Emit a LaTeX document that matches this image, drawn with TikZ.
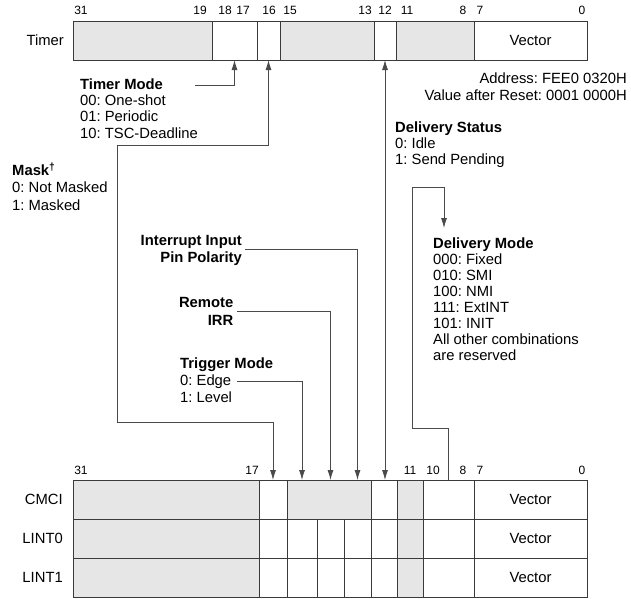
\documentclass[tikz,border=0pt]{standalone}
\usepackage{fontspec}
\setmainfont{Liberation Sans}
\usetikzlibrary{arrows.meta}
\frenchspacing

\definecolor{regfill}{HTML}{E6E6E6}
\definecolor{regline}{HTML}{3A3A3A}
\definecolor{wirec}{HTML}{4A4A4A}

\tikzset{
  cell/.style={draw=regline, line width=0.8pt, minimum height=39pt, inner sep=0pt, outer sep=0pt, font=\fontsize{14.8}{17}\selectfont},
  res/.style={cell, fill=regfill},
  bitno/.style={font=\fontsize{12}{14}\selectfont, inner sep=0pt},
  regname/.style={font=\fontsize{14.8}{17}\selectfont, anchor=east, inner sep=0pt},
  lbl/.style={font=\fontsize{14.8}{16.5}\selectfont, align=left, anchor=base west, inner sep=0pt},
  lblr/.style={lbl, align=right, anchor=base east},
  wire/.style={draw=wirec, line width=0.8pt},
  toarrow/.style={-{Latex[length=10pt,width=6pt]}},
  botharrow/.style={{Latex[length=10pt,width=6pt]}-{Latex[length=10pt,width=6pt]}}
}

\begin{document}
\begin{tikzpicture}[x=1pt,y=-1pt]
\useasboundingbox (0,0) rectangle (631,598);

% Timer register
\node[regname] (tmr) at (64,40.5) {Timer};
\node[res, minimum width=139pt] (t31) at (142.5,40.5) {};
\node[cell, minimum width=45pt] (t1817) at (234.5,40.5) {};
\node[cell, minimum width=23pt] (t16) at (268.5,40.5) {};
\node[res, minimum width=94pt] (t1513) at (327,40.5) {};
\node[cell, minimum width=22pt] (t12) at (385,40.5) {};
\node[res, minimum width=78pt] (t118) at (435,40.5) {};
\node[cell, minimum width=113pt] (t70) at (530.5,40.5) {Vector};

\node[bitno] (tb31) at (81,10) {31};
\node[bitno] (tb19) at (200,10) {19};
\node[bitno] (tb18) at (225,10) {18};
\node[bitno] (tb17) at (243,10) {17};
\node[bitno] (tb16) at (269,10) {16};
\node[bitno] (tb15) at (290,10) {15};
\node[bitno] (tb13) at (365,10) {13};
\node[bitno] (tb12) at (385,10) {12};
\node[bitno] (tb11) at (407,10) {11};
\node[bitno] (tb8) at (463,10) {8};
\node[bitno] (tb7) at (480,10) {7};
\node[bitno] (tb0) at (582,10) {0};

\node[lblr, font=\fontsize{14.8}{17}\selectfont] (addr) at (627,100.3) {Address: FEE0 0320H\\Value after Reset: 0001 0000H};

% CMCI, LINT0, LINT1
\node[regname] (cmn) at (63,499.5) {CMCI};
\node[res, minimum width=186pt] (cm31) at (166,499.5) {};
\node[cell, minimum width=28pt] (cm16) at (273,499.5) {};
\node[res, minimum width=84pt] (cm1513) at (329,499.5) {};
\node[cell, minimum width=26pt] (cm12) at (384,499.5) {};
\node[res, minimum width=26pt] (cm11) at (410,499.5) {};
\node[cell, minimum width=51pt] (cm108) at (448.5,499.5) {};
\node[cell, minimum width=113pt] (cm70) at (530.5,499.5) {Vector};

\node[regname] (lan) at (63,538.5) {LINT0};
\node[res, minimum width=186pt] (la31) at (166,538.5) {};
\node[cell, minimum width=28pt] (la16) at (273,538.5) {};
\node[cell, minimum width=30pt] (la15) at (302,538.5) {};
\node[cell, minimum width=27pt] (la14) at (330.5,538.5) {};
\node[cell, minimum width=27pt] (la13) at (357.5,538.5) {};
\node[cell, minimum width=26pt] (la12) at (384,538.5) {};
\node[res, minimum width=26pt] (la11) at (410,538.5) {};
\node[cell, minimum width=51pt] (la108) at (448.5,538.5) {};
\node[cell, minimum width=113pt] (la70) at (530.5,538.5) {Vector};

\node[regname] (lbn) at (63,577.5) {LINT1};
\node[res, minimum width=186pt] (lb31) at (166,577.5) {};
\node[cell, minimum width=28pt] (lb16) at (273,577.5) {};
\node[cell, minimum width=30pt] (lb15) at (302,577.5) {};
\node[cell, minimum width=27pt] (lb14) at (330.5,577.5) {};
\node[cell, minimum width=27pt] (lb13) at (357.5,577.5) {};
\node[cell, minimum width=26pt] (lb12) at (384,577.5) {};
\node[res, minimum width=26pt] (lb11) at (410,577.5) {};
\node[cell, minimum width=51pt] (lb108) at (448.5,577.5) {};
\node[cell, minimum width=113pt] (lb70) at (530.5,577.5) {Vector};

\node[bitno] (bb31) at (81,470) {31};
\node[bitno] (bb17) at (252,470) {17};
\node[bitno] (bb11) at (410,470) {11};
\node[bitno] (bb10) at (433,470) {10};
\node[bitno] (bb8) at (463,470) {8};
\node[bitno] (bb7) at (480,470) {7};
\node[bitno] (bb0) at (582,470) {0};

% field labels (anchored at the last line)
\node[lbl, font=\fontsize{14.8}{16.3}\selectfont] (tmode) at (80,138.2) {\textbf{Timer Mode}\\00: One-shot\\01: Periodic\\10: TSC-Deadline};
\node[lbl, font=\fontsize{14.8}{17.5}\selectfont] (mask) at (12,210.3) {\textbf{Mask\textsuperscript{\dag}}\\0: Not Masked\\1: Masked};
\node[lbl, font=\fontsize{14.8}{16}\selectfont] (dstat) at (395,164.3) {\textbf{Delivery Status}\\0: Idle\\1: Send Pending};
\node[lbl, font=\fontsize{14.8}{16}\selectfont] (dmode) at (433,360.3) {\textbf{Delivery Mode}\\000: Fixed\\010: SMI\\100: NMI\\111: ExtINT\\101: INIT\\All other combinations\\are reserved};
\node[lblr, font=\fontsize{14.8}{17}\selectfont] (ipol) at (242,262.3) {\textbf{Interrupt Input}\\\textbf{Pin Polarity}};
\node[lblr, font=\fontsize{14.8}{18}\selectfont] (rirr) at (233.5,325.3) {\textbf{Remote}\\\textbf{IRR}};
\node[lbl, font=\fontsize{14.8}{17}\selectfont] (trig) at (180,402.3) {\textbf{Trigger Mode}\\0: Edge\\1: Level};

% connectors
\coordinate (tm0) at (195,85);
\draw[wire, toarrow] (tm0) -| (t1817.south);

\coordinate (mk1) at (117,145);
\coordinate (mk2) at (117,422);
\draw[wire, botharrow] (t16.south) |- (mk1) -- (mk2) -| (cm16.north);

\coordinate (ip0) at (245,249);
\draw[wire, toarrow] (ip0) -| (la13 |- cm1513.north);
\coordinate (rr0) at (237,311);
\draw[wire, toarrow] (rr0) -| (la14 |- cm1513.north);
\coordinate (tg0) at (237,381);
\draw[wire, toarrow] (tg0) -| (la15 |- cm1513.north);

\draw[wire, botharrow] (t12.south) -- (t12.south |- cm12.north);

\coordinate (dm1) at (412,428);
\coordinate (dm2) at (412,187);
\coordinate (dm3) at (444,228);
\draw[wire, toarrow] (cm108.north) |- (dm1) -- (dm2) -| (dm3);

\end{tikzpicture}
\end{document}
